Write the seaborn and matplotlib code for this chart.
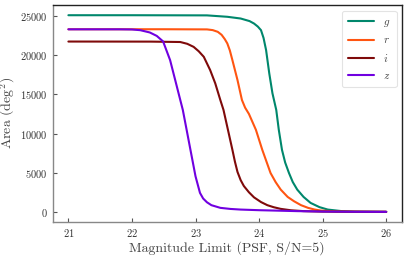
import matplotlib
matplotlib.use("Agg")
import matplotlib.pyplot as plt
import seaborn as sns
import pandas as pd

# ---- data ----
bands = ["g", "r", "i", "z"]
colors = ["#00876c", "#ff5511", "#7f0a0a", "#7000e0"]

g_mag = [21.0, 22.0, 23.18, 23.5, 23.71, 23.85, 23.92, 23.98, 24.03, 24.07, 24.11, 24.16, 24.21, 24.27,
         24.31, 24.36, 24.41, 24.47, 24.53, 24.60, 24.70, 24.81, 24.95, 25.08, 25.29, 25.5, 26.0]
g_area = [25100, 25100, 25080, 24900, 24680, 24350, 24040, 23650, 23190, 22200, 20650, 17680, 15140, 13010,
          10470, 7920, 6300, 4960, 3800, 2840, 1900, 1140, 600, 290, 100, 30, 0]

r_mag = [21.0, 22.5, 23.18, 23.27, 23.35, 23.41, 23.46, 23.50, 23.54, 23.58, 23.66, 23.73, 23.78, 23.84, 23.95,
         24.05, 24.18, 24.26, 24.34, 24.45, 24.55, 24.66, 24.77, 24.87, 24.97, 25.2, 25.6, 26.0]
r_area = [23310, 23310, 23290, 23200, 22980, 22600, 22050, 21500, 20600, 19370, 16830, 14280, 13300, 12500, 10470,
          7920, 4960, 3800, 2840, 1900, 1350, 850, 510, 300, 165, 50, 10, 0]

i_mag = [21.0, 22.3, 22.76, 22.87, 22.97, 23.05, 23.13, 23.23, 23.31, 23.39, 23.44, 23.51, 23.58, 23.62,
         23.66, 23.71, 23.76, 23.84, 23.92, 24.03, 24.13, 24.23, 24.34, 24.5, 24.7, 25.0, 26.0]
i_area = [21740, 21730, 21680, 21450, 21060, 20500, 19790, 18100, 16410, 14280, 13010, 10470, 7920, 6400,
          5100, 4050, 3300, 2500, 1850, 1250, 850, 590, 380, 200, 90, 30, 0]

z_mag = [21.0, 21.8, 22.0, 22.13, 22.28, 22.39, 22.49, 22.60, 22.68, 22.76, 22.80, 22.86, 22.92, 23.00,
         23.07, 23.12, 23.18, 23.25, 23.39, 23.55, 23.71, 24.0, 24.23, 24.6, 25.0, 25.5, 26.0]
z_area = [23300, 23300, 23280, 23190, 22900, 22460, 21750, 19370, 16830, 14280, 13010, 10470, 7920, 4530,
          2420, 1700, 1220, 850, 510, 370, 290, 210, 165, 90, 40, 10, 0]

xticks = [21, 22, 23, 24, 25, 26]
yticks = [0, 5000, 10000, 15000, 20000, 25000]

mags = {"g": g_mag, "r": r_mag, "i": i_mag, "z": z_mag}
areas = {"g": g_area, "r": r_area, "i": i_area, "z": z_area}

rows = []
for b in bands:
    for m, a in zip(mags[b], areas[b]):
        rows.append({"mag": m, "area": a, "band": f"${b}$"})
df = pd.DataFrame(rows)

sns.set_theme(style="ticks")
plt.rcParams["font.family"] = ["cmr10", "DejaVu Serif"]
plt.rcParams["mathtext.fontset"] = "cm"
plt.rcParams["axes.unicode_minus"] = False
plt.rcParams["axes.formatter.use_mathtext"] = True
plt.rcParams["lines.solid_capstyle"] = "round"
plt.rcParams["lines.solid_joinstyle"] = "round"

fig = plt.figure(figsize=(4.07, 2.57), dpi=100)
ax = fig.add_axes([0.129, 0.1374, 0.859, 0.843])

sns.lineplot(data=df, x="mag", y="area", hue="band",
             palette=dict(zip([f"${b}$" for b in bands], colors)),
             linewidth=1.5, ax=ax, sort=True, estimator=None)

ax.set_xticks(xticks)
ax.set_yticks(yticks)
ax.set_xlim(20.75, 26.25)
ax.set_ylim(-1257, 26400)
ax.set_xlabel("Magnitude Limit (PSF, S/N=5)", fontsize=10, color="#444444", labelpad=2)
ax.set_ylabel(r"Area (deg$^2$)", fontsize=10, color="#444444", labelpad=2)
ax.tick_params(direction="in", length=3, width=0.8, labelsize=7.5,
               colors="#555555", labelcolor="#333333")
for s in ["left", "bottom"]:
    ax.spines[s].set_color("#888888")
    ax.spines[s].set_linewidth(1.0)
for s in ["top", "right"]:
    ax.spines[s].set_color("#222222")
    ax.spines[s].set_linewidth(1.0)

leg = ax.legend(loc="upper right", fontsize=8, frameon=True, handlelength=2.3,
                borderpad=0.6, labelspacing=0.6)
leg.get_frame().set_edgecolor("#dddddd")
leg.get_frame().set_linewidth(0.8)
for t in leg.get_texts():
    t.set_color("#444444")

fig.savefig("out.png", dpi=100)
